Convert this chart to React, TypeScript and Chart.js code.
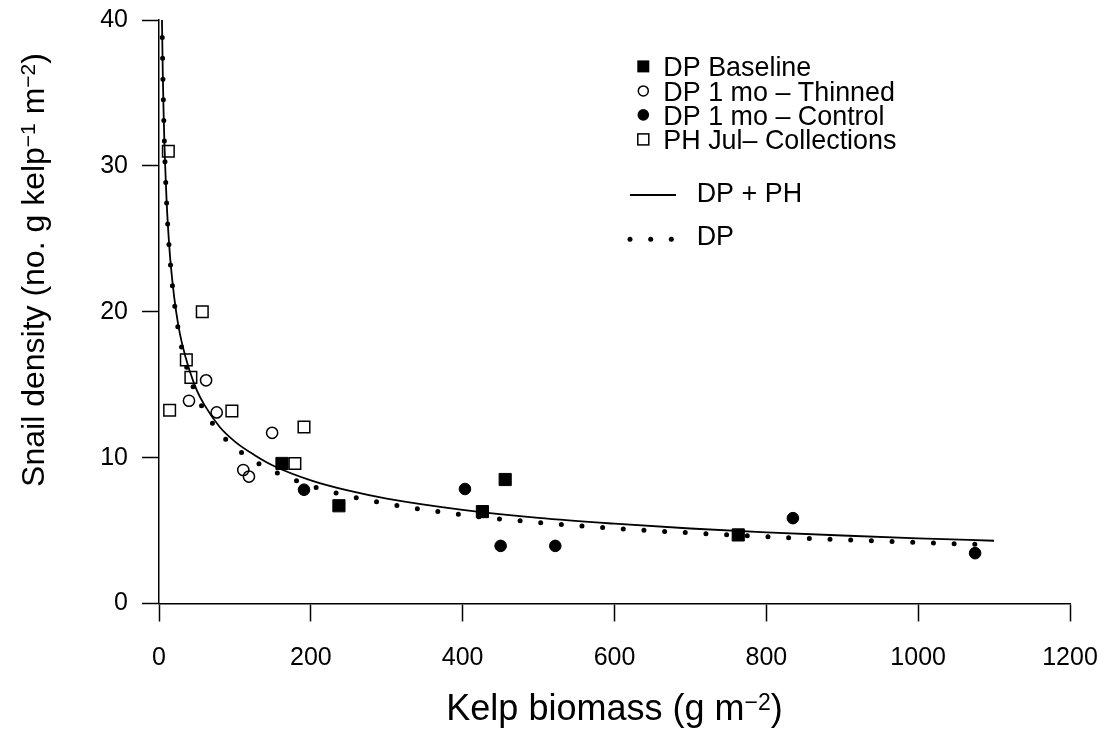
import React, { useEffect, useRef } from 'react';
import { Chart, registerables } from 'chart.js';

Chart.register(...registerables);

// ---- data ----
const xTickValues = [0, 200, 400, 600, 800, 1000, 1200];
const yTickValues = [0, 10, 20, 30, 40];

const baselineX = [162, 237, 426, 456, 763];
const baselineY = [9.6, 6.7, 6.3, 8.5, 4.7];

const thinnedX = [39.5, 62, 76, 111, 118.5, 149];
const thinnedY = [13.9, 15.3, 13.1, 9.15, 8.7, 11.7];

const controlX = [191, 403, 450, 522, 835, 1075];
const controlY = [7.8, 7.85, 3.95, 3.95, 5.85, 3.45];

const phX = [12.3, 14, 36, 42, 57, 96, 179, 191];
const phY = [31.0, 13.25, 16.7, 15.5, 20.0, 13.2, 9.6, 12.1];

// fitted curves
const fitAllX = [3.92, 5, 6, 7, 8, 10, 12, 15, 20, 25, 30, 40, 50, 60, 80, 100, 125, 150, 200, 250, 300, 400, 500, 600, 700, 800, 900, 1000, 1100];
const fitAllY = [40, 36.3, 33.8, 31.8, 30.2, 27.6, 25.7, 23.5, 21.0, 19.2, 17.9, 16.0, 14.6, 13.6, 12.1, 11.1, 10.2, 9.46, 8.44, 7.73, 7.19, 6.42, 5.87, 5.47, 5.14, 4.88, 4.66, 4.47, 4.30];

const fitDpX = [4.3, 5, 6, 7, 8, 10, 12, 15, 20, 25, 30, 40, 50, 60, 80, 100, 125, 150, 200, 250, 300, 400, 500, 600, 700, 800, 900, 1000, 1100];
const fitDpY = [38.8, 36.5, 33.9, 31.8, 30.1, 27.5, 25.5, 23.3, 20.7, 18.9, 17.5, 15.6, 14.2, 13.2, 11.7, 10.7, 9.79, 9.08, 8.07, 7.37, 6.84, 6.08, 5.55, 5.15, 4.84, 4.58, 4.37, 4.18, 4.02];

const legendLabels = ['DP Baseline', 'DP 1 mo \u2013 Thinned', 'DP 1 mo \u2013 Control', 'PH Jul\u2013 Collections'];
const lineLegendLabels = ['DP + PH', 'DP'];

const FONT = '"Liberation Sans", Arial, Helvetica, sans-serif';

const zip = (xs: number[], ys: number[]) => xs.map((x, i) => ({ x, y: ys[i] }));

type Part = [string, boolean];

function drawRich(ctx: CanvasRenderingContext2D, parts: Part[], cx: number, baseY: number, size: number, supSize: number, raise: number) {
  const widths = parts.map(([t, sup]) => {
    ctx.font = `${sup ? supSize : size}px ${FONT}`;
    return ctx.measureText(t).width;
  });
  const total = widths.reduce((a, b) => a + b, 0);
  let x = cx - total / 2;
  ctx.textAlign = 'left';
  ctx.textBaseline = 'alphabetic';
  parts.forEach(([t, sup], i) => {
    ctx.font = `${sup ? supSize : size}px ${FONT}`;
    ctx.fillText(t, x, sup ? baseY - raise : baseY);
    x += widths[i];
  });
}

const annotPlugin = {
  id: 'annot',
  afterDraw(chart: any) {
    const ctx: CanvasRenderingContext2D = chart.ctx;
    const area = chart.chartArea;
    ctx.save();
    ctx.fillStyle = '#000';
    // x title
    drawRich(ctx, [['Kelp biomass (g m', false], ['\u22122', true], [')', false]], (area.left + area.right) / 2, 720, 36, 23, 10);
    // y title
    ctx.save();
    ctx.translate(44, 270);
    ctx.rotate(-Math.PI / 2);
    drawRich(ctx, [['Snail density (no. g kelp', false], ['\u22121', true], [' m', false], ['\u22122', true], [')', false]], 0, 0, 32, 21, 9);
    ctx.restore();

    // legend (symbols)
    const lx = 643.3;
    const tx = 663.3;
    const baselines = [76, 100.5, 124.5, 149];
    ctx.font = `26.9px ${FONT}`;
    ctx.textAlign = 'left';
    ctx.textBaseline = 'alphabetic';
    legendLabels.forEach((lab, i) => {
      const cy = baselines[i] - 9.6;
      ctx.fillStyle = '#000';
      ctx.strokeStyle = '#000';
      ctx.lineWidth = 1.5;
      if (i === 0) {
        ctx.fillRect(lx - 6, cy - 6, 12, 12);
      } else if (i === 1) {
        ctx.beginPath();
        ctx.arc(lx, cy, 5, 0, Math.PI * 2);
        ctx.stroke();
      } else if (i === 2) {
        ctx.beginPath();
        ctx.arc(lx, cy, 5.8, 0, Math.PI * 2);
        ctx.fill();
      } else {
        ctx.strokeRect(lx - 5.5, cy - 5.5, 11, 11);
      }
      ctx.fillText(lab, tx, baselines[i]);
    });
    // legend (lines)
    ctx.lineWidth = 1.8;
    ctx.beginPath();
    ctx.moveTo(630, 195);
    ctx.lineTo(676, 195);
    ctx.stroke();
    ctx.fillText(lineLegendLabels[0], 696.7, 202.3);
    [630, 650.7, 671.3].forEach((dx) => {
      ctx.beginPath();
      ctx.arc(dx, 239.3, 2.5, 0, Math.PI * 2);
      ctx.fill();
    });
    ctx.fillText(lineLegendLabels[1], 696.7, 245);
    ctx.restore();
  },
};

const noPad = (s: any) => {
  s.paddingTop = 0;
  s.paddingBottom = 0;
  s.paddingLeft = 0;
  s.paddingRight = 0;
};

export default function App() {
  const ref = useRef<HTMLCanvasElement | null>(null);

  useEffect(() => {
    if (!ref.current) return;
    const chart = new Chart(ref.current, {
      type: 'scatter',
      data: {
        datasets: [
          {
            label: legendLabels[0],
            data: zip(baselineX, baselineY),
            pointStyle: 'rect',
            pointRadius: 8.6,
            backgroundColor: '#000',
            borderColor: '#000',
            borderWidth: 1,
          },
          {
            label: legendLabels[1],
            data: zip(thinnedX, thinnedY),
            pointStyle: 'circle',
            pointRadius: 5.6,
            backgroundColor: 'rgba(0,0,0,0)',
            borderColor: '#000',
            borderWidth: 1.5,
          },
          {
            label: legendLabels[2],
            data: zip(controlX, controlY),
            pointStyle: 'circle',
            pointRadius: 5.8,
            backgroundColor: '#000',
            borderColor: '#000',
            borderWidth: 1,
          },
          {
            label: legendLabels[3],
            data: zip(phX, phY),
            pointStyle: 'rect',
            pointRadius: 8.2,
            backgroundColor: 'rgba(0,0,0,0)',
            borderColor: '#000',
            borderWidth: 1.5,
          },
          {
            label: lineLegendLabels[0],
            data: zip(fitAllX, fitAllY),
            showLine: true,
            pointRadius: 0,
            borderColor: '#000',
            borderWidth: 1.8,
            cubicInterpolationMode: 'monotone',
          } as any,
          {
            label: lineLegendLabels[1],
            data: zip(fitDpX, fitDpY),
            showLine: true,
            pointRadius: 0,
            borderColor: '#000',
            borderWidth: 5,
            borderDash: [0, 20.7],
            borderCapStyle: 'round',
            cubicInterpolationMode: 'monotone',
          } as any,
        ],
      },
      options: {
        animation: false,
        responsive: false,
        devicePixelRatio: 1,
        layout: { padding: { left: 0, top: 20, right: 38, bottom: 0 } },
        plugins: { legend: { display: false }, tooltip: { enabled: false } },
        scales: {
          x: {
            type: 'linear',
            min: 0,
            max: 1200,
            afterFit: (s: any) => { s.height = 125.5; noPad(s); },
            afterBuildTicks: (s: any) => { s.ticks = xTickValues.map((v) => ({ value: v })); },
            ticks: { color: '#000', font: { family: FONT, size: 25 }, padding: 22, maxRotation: 0, callback: (v: any) => String(v) },
            grid: { drawOnChartArea: false, drawTicks: true, tickLength: 18, tickColor: '#000', tickWidth: 1.5 },
            border: { display: true, color: '#000', width: 1.5 },
          },
          y: {
            type: 'linear',
            min: 0,
            max: 40,
            afterFit: (s: any) => { s.width = 159; noPad(s); },
            afterBuildTicks: (s: any) => { s.ticks = yTickValues.map((v) => ({ value: v })); },
            ticks: { color: '#000', font: { family: FONT, size: 25 }, padding: 14, callback: (v: any) => String(v) },
            grid: { drawOnChartArea: false, drawTicks: true, tickLength: 17, tickColor: '#000', tickWidth: 1.5 },
            border: { display: true, color: '#000', width: 1.5 },
          },
        },
      },
      plugins: [annotPlugin],
    } as any);
    return () => chart.destroy();
  }, []);

  return (
    <div style={{ position: 'absolute', left: 0, top: 0, width: 1108, height: 729, background: '#fff' }}>
      <canvas ref={ref} width={1108} height={729} />
    </div>
  );
}
